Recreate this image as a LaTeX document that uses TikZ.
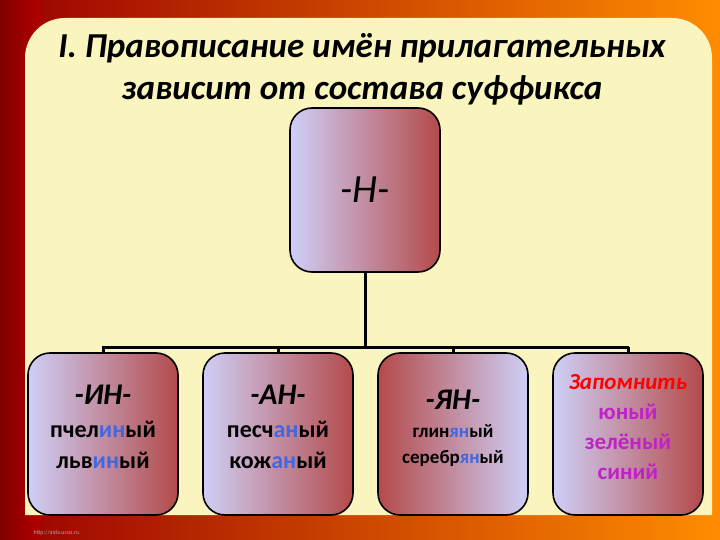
\documentclass[tikz,border=0pt]{standalone}
\usepackage{fontspec}
\setmainfont{Carlito}
\begin{document}
\begin{tikzpicture}[x=1pt,y=-1pt,
  lr/.style={draw=black,line width=1.6pt,rounded corners=22pt,left color=lav,right color=rbr},
  rl/.style={draw=black,line width=1.6pt,rounded corners=22pt,left color=rbr,right color=lav},
  conn/.style={line width=3pt,black},
  txt/.style={font=\bfseries\fontsize{24}{31}\selectfont,align=center,text=black}]
\definecolor{lav}{HTML}{CFCFF7}
\definecolor{rbr}{HTML}{B44A4A}
\definecolor{panel}{HTML}{FAF4BE}
\definecolor{blu}{HTML}{4466E0}
\definecolor{mag}{HTML}{C021C8}
\useasboundingbox (0,0) rectangle (720,540);
\shade[left color=red!60!black, right color=orange!90!yellow] (0,0) rectangle (720,540);
\shade[left color=red!50!black, right color=red!70!black] (0,0) rectangle (40,540);
\fill[panel,rounded corners=40pt] (25,18) -- (712,18) [sharp corners] -- (712,515) -- (25,515) [rounded corners=40pt] -- cycle;
\node[text=gray!70,font=\fontsize{6}{7}\selectfont,anchor=west] (url) at (30,533) {http://aida.ucoz.ru};
\node[font=\bfseries\itshape\fontsize{35}{42}\selectfont,align=center] (title) at (362,69) {I. Правописание имён прилагательных\\зависит от состава суффикса};
\node[lr,minimum width=150pt,minimum height=164pt] (top) at (365,190) {};
\node[font=\itshape\fontsize{40}{44}\selectfont] at (top) {-Н-};
\coordinate (j) at (365,347);
\coordinate (l1) at (103,347);
\coordinate (l4) at (627,347);
\draw[conn] (top.south) -- (j);
\draw[conn,line cap=rect] (l1) -- (l4);
\node[lr,minimum width=150pt,minimum height=162pt] (b1) at (103,434) {};
\node[lr,minimum width=150pt,minimum height=162pt] (b2) at (278,434) {};
\node[rl,minimum width=150pt,minimum height=162pt] (b3) at (453,434) {};
\node[lr,minimum width=150pt,minimum height=162pt] (b4) at (628,434) {};
\foreach \b in {b1,b2,b3,b4}{\draw[conn] (\b.north |- l1) -- (\b.north);}
\node[txt] at (103,427) {{\itshape\fontsize{30}{34}\selectfont -ИН-}\\[2pt]пчел\textcolor{blu}{ин}ый\\льв\textcolor{blu}{ин}ый};
\node[txt] at (278,427) {{\itshape\fontsize{30}{34}\selectfont -АН-}\\[2pt]песч\textcolor{blu}{ан}ый\\кож\textcolor{blu}{ан}ый};
\node[txt,font=\bfseries\fontsize{19}{26}\selectfont] at (453,428) {{\itshape\fontsize{30}{34}\selectfont -ЯН-}\\[2pt]глин\textcolor{blu}{ян}ый\\серебр\textcolor{blu}{ян}ый};
\node[txt,text=mag,font=\bfseries\fontsize{23}{30}\selectfont] at (628,427) {\textcolor{red}{\itshape Запомнить}\\юный\\зелёный\\синий};
\end{tikzpicture}
\end{document}
